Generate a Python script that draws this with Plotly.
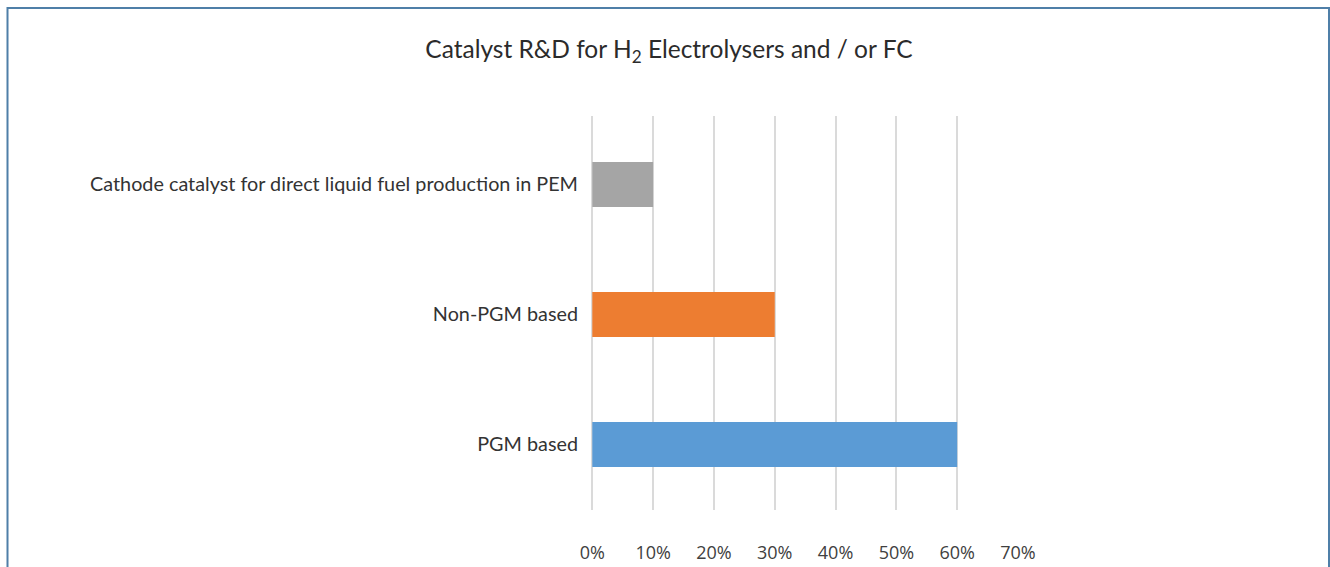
import plotly.graph_objects as go

categories = ["PGM based", "Non-PGM based", "Cathode catalyst for direct liquid fuel production in PEM"]
values = [0.60, 0.30, 0.10]
colors = ["#5b9bd5", "#ed7d31", "#a5a5a5"]
tick_vals = [0, 0.1, 0.2, 0.3, 0.4, 0.5, 0.6, 0.7]
tick_text = ["0%", "10%", "20%", "30%", "40%", "50%", "60%", "70%"]
title_text = "Catalyst R&D for H<sub>2</sub> Electrolysers and / or FC"

W, H = 1330, 567
L, R, T, B = 592, 1018, 116, 510

fig = go.Figure(go.Bar(
    y=categories, x=values, orientation="h",
    marker=dict(color=colors, line=dict(width=0)),
    width=0.346, hoverinfo="skip",
))

fig.update_layout(
    width=W, height=H,
    margin=dict(l=L, r=W - R, t=T, b=H - B, pad=0, autoexpand=False),
    paper_bgcolor="white", plot_bgcolor="white",
    showlegend=False,
    font=dict(family="Lato", color="#333333"),
    title=dict(text=title_text, x=669 / W, xanchor="center",
               y=1 - 49 / H, yanchor="middle", automargin=False,
               font=dict(family="Lato", size=24.5, color="#2b2b2b")),
    xaxis=dict(range=[-0.0005, 0.7], tickvals=tick_vals, ticktext=tick_text,
               showgrid=True, gridcolor="#dadada", gridwidth=1.5,
               zeroline=True, zerolinecolor="#dadada", zerolinewidth=1.5,
               showline=False, ticks="", automargin=False,
               ticklabelstandoff=30,
               tickfont=dict(family="Open Sans", size=18, color="#404040"),
               fixedrange=True),
    yaxis=dict(range=[-0.504, 2.527], showgrid=False, zeroline=False, showline=False,
               ticks="", ticklabelstandoff=13, automargin=False,
               tickfont=dict(family="Lato", size=19.8, color="#333333"),
               fixedrange=True),
)

# outer frame border (partially visible, as in reference)
pw, ph = R - L, B - T
def px_x(p):
    return (p - L) / pw
def px_y(p):
    return (B - p) / ph
fig.add_shape(type="path", xref="paper", yref="paper",
              path=f"M {px_x(7.5)} {px_y(600)} L {px_x(7.5)} {px_y(8)} L {px_x(1329)} {px_y(8)} L {px_x(1329)} {px_y(600)}",
              line=dict(color="#4f7fa8", width=2), layer="above")

fig.write_html("out.html", config={"displayModeBar": False},
               post_script="document.body.style.margin='0';document.body.style.overflow='hidden';")
